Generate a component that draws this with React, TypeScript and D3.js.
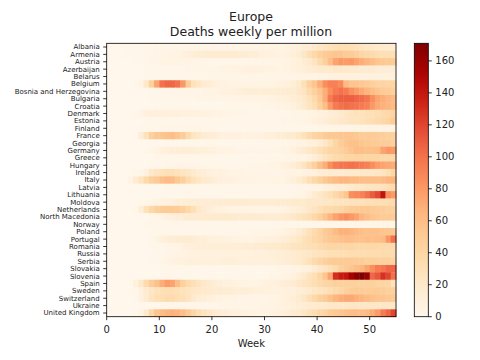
import React from "react";
import * as d3 from "d3";

const countries = [
  "Albania", "Armenia", "Austria", "Azerbaijan", "Belarus", "Belgium",
  "Bosnia and Herzegovina", "Bulgaria", "Croatia", "Denmark", "Estonia",
  "Finland", "France", "Georgia", "Germany", "Greece", "Hungary", "Ireland",
  "Italy", "Latvia", "Lithuania", "Moldova", "Netherlands", "North Macedonia",
  "Norway", "Poland", "Portugal", "Romania", "Russia", "Serbia", "Slovakia",
  "Slovenia", "Spain", "Sweden", "Switzerland", "Ukraine", "United Kingdom",
];

const xTicks = [0, 10, 20, 30, 40, 50];
const cbTicks = [0, 20, 40, 60, 80, 100, 120, 140, 160];

const albania = [0,0,1,1,1, 1,2,2,2,3, 3,3,3,3,3, 3,4,4,4,4, 4,4,4,4,4, 4,5,5,5,5, 5,6,6,6,7, 8,10,12,14,18, 22,25,28,30,32, 32,30,27,24,22, 20,18,17,16,15];
const armenia = [0,0,0,1,1, 1,1,2,2,3, 3,4,5,6,8, 10,12,14,14,15, 15,16,16,15,15, 14,14,13,12,10, 9,8,7,7,8, 10,14,22,30,38, 45,50,52,55,55, 50,48,45,40,38, 35,33,32,30,30];
const austria = [0,0,0,0,0, 1,1,2,3,4, 5,6,6,6,5, 5,4,3,3,2, 2,2,2,2,2, 2,2,2,3,3, 3,4,4,5,6, 8,10,14,18,25, 35,45,60,75,80, 78,80,75,70,65, 60,55,52,50,48];
const azerbaijan = [0,0,0,0,0, 0,0,1,1,1, 1,2,2,2,2, 3,3,3,3,4, 4,5,6,6,7, 7,8,8,8,8, 7,7,6,6,6, 8,10,12,14,16, 18,18,18,20,20, 18,18,17,16,15, 15,14,14,13,12];
const belarus = [0,0,0,0,0, 0,0,1,1,1, 1,1,1,2,2, 2,2,2,2,3, 3,3,3,3,3, 3,3,3,3,3, 3,3,4,4,4, 4,5,5,6,6, 7,7,8,8,8, 8,8,8,8,8, 8,8,8,8,8];
const belgium = [0,0,0,0,0, 1,5,20,45,75, 100,105,105,100,80, 48,28,22,16,13, 10,8,7,6,6, 5,5,5,5,5, 6,6,7,8,10, 12,18,30,45,55, 70,85,92,92,88, 62,55,55,52,50, 45,42,42,40,40];
const bosnia = [0,0,0,0,0, 0,0,0,1,1, 2,2,3,3,3, 4,4,4,5,5, 6,7,8,9,10, 11,12,12,13,13, 13,13,14,14,15, 16,20,25,35,45, 55,70,85,95,100, 95,85,78,72,65, 60,55,50,48,45];
const bulgaria = [0,0,0,0,0, 0,0,0,1,1, 1,1,2,2,2, 2,2,3,3,3, 3,3,4,4,4, 5,5,5,6,6, 6,7,8,9,10, 12,15,20,28,35, 50,70,95,105,108, 108,108,105,102,98, 85,75,70,65,62];
const croatia = [0,0,0,0,0, 0,0,0,0,1, 1,1,1,1,1, 1,1,1,1,1, 1,1,1,2,2, 2,2,2,2,3, 3,4,5,6,7, 8,12,18,25,32, 45,60,80,95,100, 102,100,98,95,92, 80,72,68,65,62];
const denmark = [0,0,0,0,0, 2,5,8,10,10, 10,10,10,10,9, 9,8,8,7,7, 6,5,4,4,3, 3,3,2,2,2, 2,2,2,2,2, 3,3,4,5,6, 8,10,12,14,18, 22,25,28,28,30, 30,32,35,38,42];
const estonia = [0,0,0,0,0, 0,0,1,1,1, 1,1,2,2,2, 2,2,2,2,2, 2,2,2,2,2, 2,2,2,2,2, 2,2,2,3,3, 3,4,5,6,8, 10,12,15,18,20, 22,25,25,28,30, 32,35,38,42,48];
const finland = [0,0,0,0,0, 0,1,1,2,2, 3,3,3,3,3, 3,3,3,2,2, 2,2,1,1,1, 1,1,1,1,1, 1,1,1,1,1, 1,2,2,2,2, 3,3,3,4,4, 4,4,5,5,5, 5,5,5,5,6];
const france = [0,0,0,0,0, 2,12,28,45,52, 55,58,60,55,48, 35,25,20,16,14, 12,10,9,8,8, 8,7,7,7,8, 10,10,12,13,15, 18,22,28,35,42, 45,50,52,52,55, 55,55,52,50,50, 50,48,48,45,45];
const georgia = [0,0,0,0,0, 0,0,0,0,0, 0,1,1,1,1, 1,1,1,1,1, 1,1,1,1,1, 1,1,1,1,1, 2,2,2,3,3, 4,5,6,8,10, 14,20,30,40,48, 55,58,58,55,52, 50,50,48,48,45];
const germany = [0,0,0,0,0, 0,0,1,3,5, 8,10,12,12,12, 12,11,10,10,9, 8,7,6,5,4, 3,3,3,3,3, 3,4,4,5,6, 8,12,16,20,25, 30,35,40,42,45, 48,55,60,60,58, 58,60,75,80,78];
const greece = [0,0,0,0,0, 0,0,0,0,1, 1,1,1,1,1, 1,1,1,1,1, 1,1,1,1,1, 1,1,1,1,1, 1,2,2,2,3, 4,5,6,8,12, 18,25,30,35,38, 40,40,42,42,40, 40,40,38,38,38];
const hungary = [0,0,0,0,0, 0,0,0,1,2, 2,3,3,4,4, 4,3,3,3,2, 2,2,2,2,2, 2,2,3,3,3, 4,5,6,8,10, 12,18,25,35,45, 60,70,85,95,98, 98,100,98,95,92, 85,78,75,72,70];
const ireland = [0,0,0,0,0, 1,3,8,20,25, 28,30,30,28,25, 22,18,14,12,10, 9,8,7,6,5, 5,4,4,4,4, 4,4,4,4,5, 5,6,7,8,10, 12,14,15,16,16, 18,18,18,20,20, 20,22,25,30,40];
const italy = [0,0,0,0,5, 15,25,35,45,50, 58,62,60,52,45, 35,28,22,18,15, 12,10,9,8,7, 6,6,5,5,5, 5,5,6,6,8, 10,15,22,30,38, 45,52,58,62,65, 65,62,62,60,60, 60,60,62,65,65];
const latvia = [0,0,0,0,0, 0,0,0,0,0, 0,1,1,1,1, 1,1,1,1,1, 1,1,1,1,1, 1,1,1,1,1, 1,1,1,2,2, 2,3,3,4,5, 6,8,10,12,14, 16,18,20,22,24, 25,26,28,30,35];
const lithuania = [0,0,0,0,0, 0,0,0,0,0, 1,1,1,1,1, 1,1,1,1,1, 1,1,1,1,1, 1,1,1,1,1, 1,1,1,2,2, 3,4,6,10,15, 20,25,30,38,45, 55,85,88,92,100, 110,118,142,85,78];
const moldova = [0,0,0,0,0, 0,1,2,3,5, 7,8,10,12,12, 13,13,14,14,14, 14,15,15,15,15, 15,15,14,14,14, 14,14,15,15,16, 17,18,18,20,20, 20,22,22,24,24, 25,26,28,28,30, 30,32,32,33,35];
const netherlands = [0,0,0,0,0, 1,12,28,38,45, 48,50,50,48,45, 38,30,20,15,12, 10,8,7,6,6, 5,5,5,5,5, 5,5,6,7,8, 10,12,15,20,25, 30,35,35,38,40, 45,48,50,52,52, 50,48,48,45,45];
const northMacedonia = [0,0,0,0,0, 0,0,0,1,2, 5,8,10,12,14, 15,16,16,17,17, 18,18,18,17,17, 16,16,15,15,15, 14,14,15,16,18, 20,24,28,32,38, 45,55,65,75,82, 85,80,75,65,60, 55,52,50,50,48];
const norway = [0,0,0,0,0, 0,0,1,1,1, 1,2,2,2,2, 2,2,2,2,1, 1,1,1,1,1, 1,1,1,1,1, 1,1,1,1,1, 1,1,1,1,2, 2,2,2,2,2, 2,2,3,3,3, 3,3,3,3,3];
const poland = [0,0,0,0,0, 0,0,0,1,1, 1,1,1,2,2, 2,2,2,2,2, 2,2,2,2,2, 2,2,3,3,3, 3,4,5,6,8, 10,14,20,28,35, 42,50,55,62,68, 68,65,62,60,58, 58,58,56,55,52];
const portugal = [0,0,0,0,0, 0,0,0,1,5, 10,12,14,15,15, 15,14,13,12,10, 9,8,8,7,7, 6,6,6,7,8, 8,9,10,12,14, 18,22,28,32,38, 42,48,52,55,58, 60,60,58,58,60, 58,60,62,80,100];
const romania = [0,0,0,0,0, 0,0,0,1,1, 2,3,4,5,8, 10,11,12,12,12, 12,12,12,12,13, 13,14,14,15,16, 17,18,18,20,22, 24,26,28,30,32, 35,38,40,40,40, 40,40,38,38,38, 38,38,38,36,35];
const russia = [0,0,0,0,0, 0,0,0,0,1, 2,3,4,5,6, 7,8,8,8,9, 9,9,9,9,9, 9,9,9,10,10, 10,11,12,13,14, 16,18,20,22,24, 26,28,30,30,32, 32,33,33,34,34, 34,34,35,35,35];
const serbia = [0,0,0,0,0, 0,0,0,1,2, 3,5,7,8,9, 10,10,10,10,10, 10,10,11,11,11, 10,10,10,10,10, 10,10,11,12,14, 16,18,22,28,35, 40,45,48,50,50, 50,50,48,48,46, 46,45,45,44,42];
const slovakia = [0,0,0,0,0, 0,0,0,0,0, 1,1,1,1,1, 1,1,1,1,1, 1,1,1,1,1, 1,1,1,1,2, 2,2,3,3,4, 5,6,8,10,14, 20,25,30,35,45, 50,55,60,65,75, 85,95,98,105,105];
const slovenia = [0,0,0,0,0, 0,0,0,0,0, 1,1,1,1,1, 1,1,1,1,1, 1,1,1,1,1, 1,1,1,2,2, 2,3,3,4,5, 8,12,18,25,30, 40,55,75,130,138, 140,155,165,171,160, 105,112,128,120,100];
const spain = [0,0,0,0,0, 8,20,35,48,58, 70,78,75,60,45, 35,30,25,20,16, 13,11,9,8,7, 6,6,6,6,7, 8,9,10,12,14, 16,20,24,28,32, 36,40,42,45,45, 45,45,45,45,45, 45,42,42,40,28];
const sweden = [0,0,0,0,0, 2,8,15,22,28, 30,32,32,30,28, 25,22,20,18,18, 16,15,14,14,13, 12,12,11,10,10, 9,9,9,9,10, 10,12,14,18,22, 25,28,32,36,40, 45,48,50,50,48, 48,50,48,45,45];
const switzerland = [0,0,0,0,0, 1,8,15,25,30, 32,35,35,32,30, 25,18,14,12,10, 8,7,6,5,5, 4,4,4,4,4, 4,5,6,8,10, 12,16,22,30,38, 45,50,58,65,70, 72,72,68,65,62, 58,55,55,52,50];
const ukraine = [0,0,0,0,0, 0,0,0,0,0, 1,1,1,1,2, 2,2,2,2,2, 2,3,3,3,3, 3,4,4,4,5, 5,6,7,8,9, 10,12,14,15,16, 18,18,20,20,20, 20,22,22,22,22, 22,22,22,20,20];
const unitedKingdom = [0,0,0,0,0, 1,6,18,38,55, 62,65,68,65,60, 50,40,32,25,20, 16,14,12,10,9, 8,7,6,6,6, 6,7,8,10,12, 15,18,22,28,32, 38,42,48,52,55, 58,60,60,60,62, 70,78,95,105,120];

const deaths = [
  albania, armenia, austria, azerbaijan, belarus, belgium, bosnia, bulgaria,
  croatia, denmark, estonia, finland, france, georgia, germany, greece,
  hungary, ireland, italy, latvia, lithuania, moldova, netherlands,
  northMacedonia, norway, poland, portugal, romania, russia, serbia, slovakia,
  slovenia, spain, sweden, switzerland, ukraine, unitedKingdom,
];

const nWeeks = 55;

export default function App() {
  const left = 106.7, right = 396, top = 43.3, bottom = 316.7;
  const vmax = d3.max(deaths.flat()) as number;
  const x = d3.scaleLinear().domain([0, nWeeks]).range([left, right]);
  const y = d3.scaleBand<string>().domain(countries).range([top, bottom]).padding(0);
  const color = (v: number) => d3.interpolateOrRd(Math.max(0, Math.min(1, v / vmax)));
  const cbLeft = 414.3, cbRight = 428.3;
  const cb = d3.scaleLinear().domain([0, vmax]).range([bottom, top]);
  const stops = d3.range(0, 41).map((i) => i / 40);
  const font = "DejaVu Sans, sans-serif";
  const textColor = "#222";

  return (
    <svg width={480} height={360} style={{ position: "absolute", left: 0, top: 0, background: "#fff" }} fontFamily={font}>
      <defs>
        <linearGradient id="cbgrad" x1="0" y1="1" x2="0" y2="0">
          {stops.map((t) => (
            <stop key={t} offset={t} stopColor={d3.interpolateOrRd(t)} />
          ))}
        </linearGradient>
      </defs>
      <text x={251} y={21} textAnchor="middle" fontSize={12.5} fill={textColor}>Europe</text>
      <text x={251} y={35.5} textAnchor="middle" fontSize={12.5} fill={textColor}>Deaths weekly per million</text>
      <g>
        {deaths.map((row, i) =>
          row.map((v, j) => (
            <rect
              key={`${i}-${j}`}
              x={x(j)}
              y={y(countries[i]) as number}
              width={x(j + 1) - x(j) + 0.4}
              height={y.bandwidth() + 0.4}
              fill={color(v)}
            />
          ))
        )}
      </g>
      <rect x={left} y={top} width={right - left} height={bottom - top} fill="none" stroke="#000" strokeWidth={0.8} />
      {countries.map((c) => {
        const cy = (y(c) as number) + y.bandwidth() / 2;
        return (
          <g key={c}>
            <line x1={left - 3.5} x2={left} y1={cy} y2={cy} stroke="#000" strokeWidth={0.8} />
            <text x={left - 7} y={cy} dy="0.35em" textAnchor="end" fontSize={7} fill={textColor}>{c}</text>
          </g>
        );
      })}
      {xTicks.map((t) => (
        <g key={t}>
          <line x1={x(t)} x2={x(t)} y1={bottom} y2={bottom + 3.5} stroke="#000" strokeWidth={0.8} />
          <text x={x(t)} y={333} textAnchor="middle" fontSize={10} fill={textColor}>{t}</text>
        </g>
      ))}
      <text x={(left + right) / 2} y={347} textAnchor="middle" fontSize={10} fill={textColor}>Week</text>
      <rect x={cbLeft} y={top} width={cbRight - cbLeft} height={bottom - top} fill="url(#cbgrad)" stroke="#000" strokeWidth={0.8} />
      {cbTicks.map((t) => (
        <g key={t}>
          <line x1={cbRight} x2={cbRight + 3.5} y1={cb(t)} y2={cb(t)} stroke="#000" strokeWidth={0.8} />
          <text x={cbRight + 7} y={cb(t)} dy="0.35em" fontSize={10} fill={textColor}>{t}</text>
        </g>
      ))}
    </svg>
  );
}
